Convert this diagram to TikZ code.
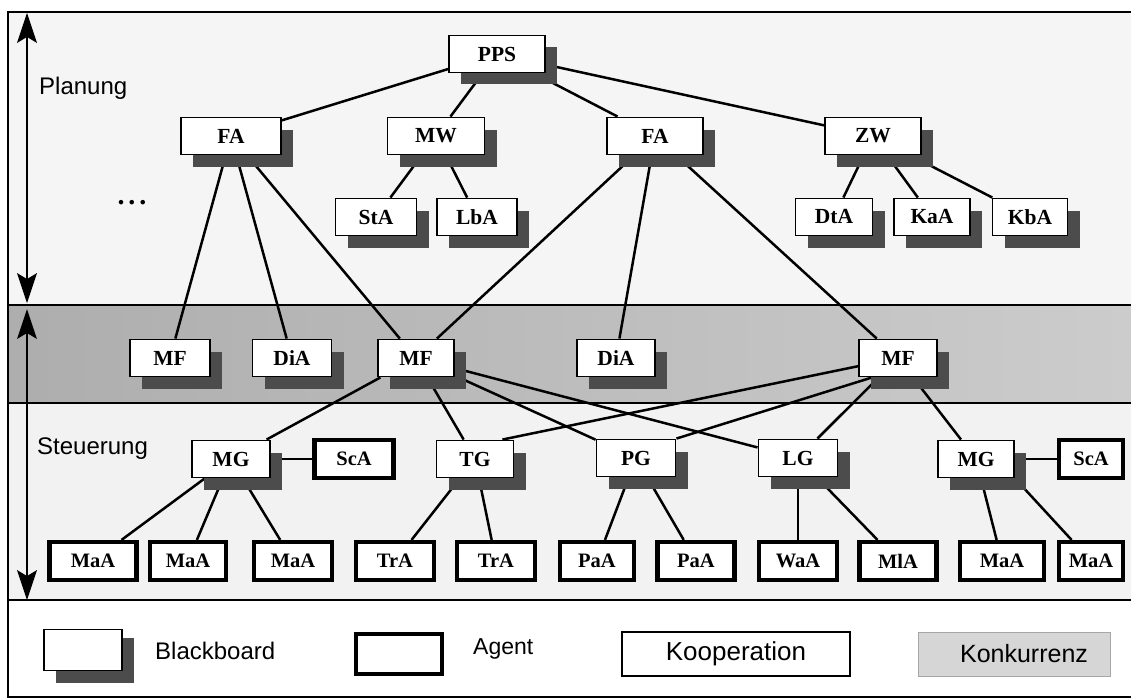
\documentclass[tikz,border=0pt]{standalone}
\usepackage{fontspec}
\setmainfont{Liberation Serif}
\setsansfont{Liberation Sans}
\usetikzlibrary{arrows.meta,shadows}
\pgfdeclarelayer{bg}
\pgfdeclarelayer{edges}
\pgfsetlayers{bg,edges,main}
\begin{document}
\begin{tikzpicture}[x=1pt,y=-1pt,
  bb/.style={draw=black, line width=1.9pt, fill=white, inner sep=0pt,
    minimum height=37pt, font=\fontsize{21.5}{24}\selectfont\bfseries,
    drop shadow={shadow xshift=12pt, shadow yshift=-12pt, fill=black!70, opacity=1}},
  ag/.style={draw=black, line width=4.2pt, fill=white, inner sep=0pt,
    minimum height=38pt, font=\fontsize{20.5}{24}\selectfont\bfseries},
  conn/.style={line width=2.5pt},
  lbl/.style={font=\sffamily\fontsize{24}{28}\selectfont, anchor=west, inner sep=0pt},
  frameline/.style={line width=2.4pt},
  shaft/.style={line width=2.2pt},
  head/.style={fill=black}]
\useasboundingbox (0,0) rectangle (1131,698);

% regions
\begin{pgfonlayer}{bg}
\fill[gray!8] (8,12) rectangle (1131,305);
\fill[left color=gray!64, right color=gray!40] (8,305) rectangle (1131,403);
\fill[gray!10] (8,403) rectangle (1131,600);
\fill[white] (8,600) rectangle (1131,697);
\draw[frameline] (1131,12) -- (8,12) -- (8,697) -- (1131,697);
\draw[frameline] (8,305) -- (1131,305);
\draw[frameline] (8,403) -- (1131,403);
\draw[frameline] (8,600) -- (1131,600);
\end{pgfonlayer}

% left double arrows
\coordinate (a1t) at (27,13);
\coordinate (a1b) at (27,303);
\coordinate (a2t) at (27,309);
\coordinate (a2b) at (27,600);
\draw[shaft] ([yshift=-20pt]a1t) -- ([yshift=20pt]a1b);
\draw[shaft] ([yshift=-20pt]a2t) -- ([yshift=20pt]a2b);
\fill[head] (a1t) -- ++(-10,30) -- ++(10,-6) -- ++(10,6) -- cycle;
\fill[head] (a1b) -- ++(-10,-30) -- ++(10,6) -- ++(10,-6) -- cycle;
\fill[head] (a2t) -- ++(-10,30) -- ++(10,-6) -- ++(10,6) -- cycle;
\fill[head] (a2b) -- ++(-10,-30) -- ++(10,6) -- ++(10,-6) -- cycle;

% labels
\node[lbl] (planung) at (39,88) {Planung};
\node[lbl] (steuerung) at (37,449) {Steuerung};
\node[font=\fontsize{28}{28}\selectfont\bfseries, inner sep=0pt] (dots) at (132,203) {.\hspace{4pt}.\hspace{4pt}.};

% planning level
\node[bb, minimum width=96pt] (PPS) at (497,54) {PPS};
\node[bb, minimum width=100pt] (FA1) at (231,136) {FA};
\node[bb, minimum width=97pt] (MW) at (436,136) {MW};
\node[bb, minimum width=96pt] (FA2) at (655,136) {FA};
\node[bb, minimum width=96pt] (ZW) at (873,136) {ZW};
\node[bb, minimum width=81pt] (StA) at (376,217) {StA};
\node[bb, minimum width=80pt] (LbA) at (477,217) {LbA};
\node[bb, minimum width=77pt] (DtA) at (834,217) {DtA};
\node[bb, minimum width=76pt] (KaA) at (932,217) {KaA};
\node[bb, minimum width=75pt] (KbA) at (1030,217) {KbA};

% middle band
\node[bb, minimum width=80pt] (MF1) at (170,358) {MF};
\node[bb, minimum width=79pt] (DiA1) at (292,358) {DiA};
\node[bb, minimum width=76pt] (MF2) at (416,358) {MF};
\node[bb, minimum width=78pt] (DiA2) at (616,358) {DiA};
\node[bb, minimum width=78pt] (MF3) at (898,358) {MF};

% control level
\node[bb, minimum width=78pt] (MG1) at (231,459) {MG};
\node[ag, minimum width=79pt] (ScA1) at (354,459) {ScA};
\node[bb, minimum width=77pt] (TG) at (475,459) {TG};
\node[bb, minimum width=79pt] (PG) at (636,458) {PG};
\node[bb, minimum width=79pt] (LG) at (798,458) {LG};
\node[bb, minimum width=76pt] (MG2) at (976,459) {MG};
\node[ag, minimum width=64pt] (ScA2) at (1091,459) {ScA};

% agents
\node[ag, minimum width=87pt] (MaA1) at (93,561) {MaA};
\node[ag, minimum width=76pt] (MaA2) at (188,561) {MaA};
\node[ag, minimum width=78pt] (MaA3) at (293,561) {MaA};
\node[ag, minimum width=78pt] (TrA1) at (395,561) {TrA};
\node[ag, minimum width=78pt] (TrA2) at (496,561) {TrA};
\node[ag, minimum width=74pt] (PaA1) at (597,561) {PaA};
\node[ag, minimum width=77pt] (PaA2) at (696,561) {PaA};
\node[ag, minimum width=78pt] (WaA) at (798,561) {WaA};
\node[ag, minimum width=77pt] (MlA) at (898,561) {MlA};
\node[ag, minimum width=84pt] (MaA4) at (1002,561) {MaA};
\node[ag, minimum width=64pt] (MaA5) at (1091,561) {MaA};

% connectors
\begin{pgfonlayer}{edges}
\draw[conn] (PPS) -- (FA1);
\draw[conn] (PPS) -- (MW);
\draw[conn] (PPS) -- (FA2);
\draw[conn] (PPS) -- (ZW);
\draw[conn] (MW) -- (StA);
\draw[conn] (MW) -- (LbA);
\draw[conn] (ZW) -- (DtA);
\draw[conn] (ZW) -- (KaA);
\draw[conn] (ZW) -- (KbA);
\draw[conn] (FA1) -- (MF1);
\draw[conn] (FA1) -- (DiA1);
\draw[conn] (FA1) -- (MF2);
\draw[conn] (FA2) -- (MF2);
\draw[conn] (FA2) -- (DiA2);
\draw[conn] (FA2) -- (MF3);
\draw[conn] (MF2) -- (MG1);
\draw[conn] (MF2) -- (TG);
\draw[conn] (MF2) -- (PG);
\draw[conn] (MF2) -- (LG);
\draw[conn] (MF3) -- ([xshift=-12pt]TG.north east);
\draw[conn] ([xshift=14pt]MF3.south west) -- (PG.north east);
\draw[conn] (MF3) -- (LG);
\draw[conn] (MF3) -- (MG2);
\draw[conn] (MG1) -- (ScA1);
\draw[conn] (MG2) -- (ScA2);
\draw[conn] (MG1) -- (MaA1);
\draw[conn] (MG1) -- (MaA2);
\draw[conn] (MG1) -- (MaA3);
\draw[conn] (TG) -- (TrA1);
\draw[conn] (TG) -- (TrA2);
\draw[conn] (PG) -- (PaA1);
\draw[conn] (PG) -- (PaA2);
\draw[conn] (LG) -- (WaA);
\draw[conn] (LG) -- (MlA);
\draw[conn] (MG2) -- (MaA4);
\draw[conn] (MG2.south east) -- (MaA5);
\end{pgfonlayer}

% legend
\node[bb, minimum width=78pt, minimum height=41pt, drop shadow={shadow xshift=12pt, shadow yshift=-8pt, fill=black!70, opacity=1}] (lbb) at (83,650) {};
\node[lbl] (lbbt) at (155,651) {Blackboard};
\node[ag, minimum width=86pt, minimum height=40pt] (lag) at (399,654) {};
\node[lbl, font=\sffamily\fontsize{23}{28}\selectfont] (lagt) at (473,649) {Agent};
\node[draw, line width=1.9pt, fill=white, inner sep=0pt, minimum width=228pt, minimum height=44pt, font=\sffamily\fontsize{26}{30}\selectfont] (lko) at (736,654) {Kooperation};
\node[draw=gray!70, line width=1pt, fill=gray!32, inner sep=0pt, minimum width=192pt, minimum height=44pt, font=\sffamily\fontsize{25}{30}\selectfont] (lkz) at (1014,654) {\hspace{20pt}Konkurrenz};
\end{tikzpicture}
\end{document}
